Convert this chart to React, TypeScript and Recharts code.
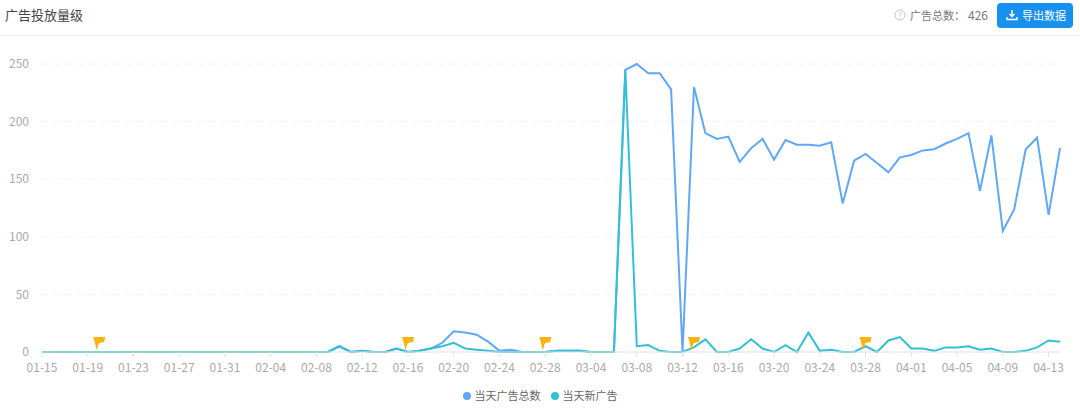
import { CartesianGrid, Legend, Line, LineChart, ReferenceDot, XAxis, YAxis } from "recharts";

const FONT = '"Noto Sans CJK SC", "Open Sans", sans-serif';

const dates = [
  "01-15", "01-16", "01-17", "01-18", "01-19", "01-20", "01-21", "01-22", "01-23", "01-24",
  "01-25", "01-26", "01-27", "01-28", "01-29", "01-30", "01-31", "02-01", "02-02", "02-03",
  "02-04", "02-05", "02-06", "02-07", "02-08", "02-09", "02-10", "02-11", "02-12", "02-13",
  "02-14", "02-15", "02-16", "02-17", "02-18", "02-19", "02-20", "02-21", "02-22", "02-23",
  "02-24", "02-25", "02-26", "02-27", "02-28", "03-01", "03-02", "03-03", "03-04", "03-05",
  "03-06", "03-07", "03-08", "03-09", "03-10", "03-11", "03-12", "03-13", "03-14", "03-15",
  "03-16", "03-17", "03-18", "03-19", "03-20", "03-21", "03-22", "03-23", "03-24", "03-25",
  "03-26", "03-27", "03-28", "03-29", "03-30", "03-31", "04-01", "04-02", "04-03", "04-04",
  "04-05", "04-06", "04-07", "04-08", "04-09", "04-10", "04-11", "04-12", "04-13", "04-14",
];

const totalAds = [
  0, 0, 0, 0, 0, 0, 0, 0, 0, 0,
  0, 0, 0, 0, 0, 0, 0, 0, 0, 0,
  0, 0, 0, 0, 0, 0, 5, 0, 1, 0,
  0, 3, 0, 1, 3, 8, 18, 17, 15, 9,
  1, 2, 0, 0, 0, 1, 1, 1, 0, 0,
  0, 245, 250, 242, 242, 228, 0, 230, 190, 185,
  187, 165, 177, 185, 167, 184, 180, 180, 179, 182,
  129, 166, 172, 164, 156, 169, 171, 175, 176, 181,
  185, 190, 140, 188, 105, 124, 176, 186, 119, 177,
];

const newAds = [
  0, 0, 0, 0, 0, 0, 0, 0, 0, 0,
  0, 0, 0, 0, 0, 0, 0, 0, 0, 0,
  0, 0, 0, 0, 0, 0, 5, 0, 1, 0,
  0, 3, 0, 1, 3, 5, 8, 3, 2, 1,
  0, 0, 0, 0, 0, 1, 1, 1, 0, 0,
  0, 245, 5, 6, 1, 0, 0, 4, 11, 0,
  0, 3, 11, 3, 0, 6, 0, 17, 1, 2,
  0, 0, 5, 0, 10, 13, 3, 3, 1, 4,
  4, 5, 2, 3, 0, 0, 1, 4, 10, 9,
];

const yTicks = [0, 50, 100, 150, 200, 250];
const flagDates = ["01-20", "02-16", "02-28", "03-13", "03-28"];

const chartData = dates.map((date, i) => ({
  date,
  total: totalAds[i],
  fresh: newAds[i],
}));

// little yellow marker, anchored on the point at value 0
function Flag({ cx, cy }: { cx?: number; cy?: number }) {
  const x = (cx ?? 0) - 2;
  const y = (cy ?? 0) - 15;
  return (
    <g>
      <path d={`M${x - 4} ${y} L${x + 8} ${y} L${x + 7} ${y + 5} L${x + 2} ${y + 6} L${x + 1} ${y + 8} L${x} ${y + 12} L${x - 1} ${y + 12} L${x - 2} ${y + 7} Z`} fill="#fbb40f" />
    </g>
  );
}

export default function App() {
  return (
    <div style={{ position: "absolute", left: 0, top: 0, width: 1080, height: 410, background: "#fff", fontFamily: FONT, overflow: "hidden" }}>
      <div style={{ position: "absolute", left: 0, top: 35, width: 1080, height: 1, background: "#f3f3f3" }} />
      <div style={{ position: "absolute", left: 5, top: 5, fontSize: 13, lineHeight: "20px", color: "#444" }}>广告投放量级</div>
      <svg width={12} height={12} style={{ position: "absolute", left: 894, top: 9 }}>
        <circle cx={6} cy={6} r={5} fill="none" stroke="#c4c4c4" />
        <text x={6} y={9} fontSize={8} textAnchor="middle" fill="#c4c4c4">?</text>
      </svg>
      <div style={{ position: "absolute", left: 910, top: 6, fontSize: 11, lineHeight: "18px", color: "#777", whiteSpace: "nowrap" }}>
        广告总数：<span style={{ position: "absolute", left: 58, fontSize: 12 }}>426</span>
      </div>
      <div style={{ position: "absolute", left: 997, top: 3, width: 76, height: 25, borderRadius: 4, background: "#1890f0", color: "#fff", fontSize: 11, lineHeight: "25px", whiteSpace: "nowrap" }}>
        <svg width={12} height={12} style={{ position: "absolute", left: 9, top: 6 }}>
          <path d="M6 1 V7 M3.5 5 L6 7.5 L8.5 5 M1 8 V10.5 H11 V8" fill="none" stroke="#fff" strokeWidth={1.4} />
        </svg>
        <span style={{ position: "absolute", left: 25 }}>导出数据</span>
      </div>

      <LineChart
        width={1080}
        height={410}
        data={chartData}
        margin={{ top: 64, right: 20, bottom: 10, left: 0 }}
        style={{ position: "absolute", left: 0, top: 0 }}
      >
        <CartesianGrid horizontal vertical={false} strokeDasharray="6 6" stroke="#f2f2f2" />
        <XAxis
          dataKey="date"
          scale="point"
          interval={3}
          height={30}
          tickSize={5}
          tickMargin={6}
          axisLine={{ stroke: "#e3e3e3" }}
          tickLine={{ stroke: "#e3e3e3" }}
          tick={{ fontSize: 12, fill: "#aaa" }}
        />
        <YAxis
          width={42}
          domain={[0, 250]}
          ticks={yTicks}
          tickSize={0}
          tickMargin={13}
          axisLine={false}
          tickLine={false}
          tick={{ fontSize: 12, fill: "#aaa" }}
        />
        <Legend
          verticalAlign="bottom"
          iconType="circle"
          iconSize={8}
          height={18}
          wrapperStyle={{ left: 15, bottom: 11 }}
          formatter={(value) => <span style={{ color: "#666", fontSize: 11 }}>{value}</span>}
        />
        <Line name="当天广告总数" dataKey="total" stroke="#60a8f5" strokeWidth={2} dot={false} isAnimationActive={false} />
        <Line name="当天新广告" dataKey="fresh" stroke="#33c0d6" strokeWidth={2} dot={false} isAnimationActive={false} />
        {flagDates.map((d) => (
          <ReferenceDot key={d} x={d} y={0} ifOverflow="visible" shape={(p: any) => <Flag cx={p.cx} cy={p.cy} />} />
        ))}
      </LineChart>
    </div>
  );
}
